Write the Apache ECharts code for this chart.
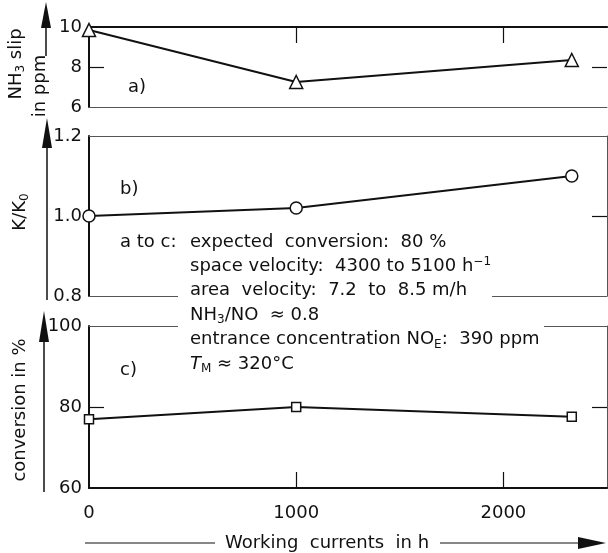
<!DOCTYPE html>
<html>
<head>
<meta charset="utf-8">
<script src="https://cdn.jsdelivr.net/npm/echarts@6/dist/echarts.min.js"></script>
<style>
  html, body { margin: 0; padding: 0; background: #fff; }
  #chart { width: 608px; height: 553px; }
</style>
</head>
<body>
<div id="chart"></div>
<script>
const hours = [0, 1000, 2330]
const nh3Slip = [9.85, 7.25, 8.35]
const kRatio = [1.0, 1.02, 1.1]
const conversion = [77, 80, 77.6]
const xTicks = [0, 1000, 2000]

const ink = '#111'
const thin = '#555'
const font = 'DejaVu Sans'

const grids = [
  { left: 89, right: 1, top: 27, height: 80 },
  { left: 89, right: 1, top: 136, height: 160 },
  { left: 89, right: 1, top: 326, height: 162 }
]

function xAx (grid, pos, lineW, lineColor, ticks, labels) {
  return {
    type: 'value', gridIndex: grid, position: pos, min: 0, max: 2500,
    axisLine: { show: true, lineStyle: { color: lineColor, width: lineW } },
    axisTick: { show: !!ticks, inside: true, length: 16, customValues: ticks || [], lineStyle: { color: ink, width: 1.2 } },
    axisLabel: labels
      ? { show: true, customValues: labels, fontFamily: font, fontSize: 18, color: ink, margin: 16, formatter: v => String(v) }
      : { show: false },
    splitLine: { show: false }
  }
}

function yAx (grid, pos, min, max, step, lineW, lineColor, ticks, labels, fmt) {
  return {
    type: 'value', gridIndex: grid, position: pos, min: min, max: max, interval: step,
    axisLine: { show: lineW > 0, onZero: false, lineStyle: { color: lineColor, width: lineW } },
    axisTick: { show: !!ticks, inside: true, length: 15, customValues: ticks || [], lineStyle: { color: ink, width: 1.2 } },
    axisLabel: labels ? { show: true, fontFamily: font, fontSize: 18, color: ink, margin: 7, formatter: fmt } : { show: false },
    splitLine: { show: false }
  }
}

function line (xi, yi, data, symbol, size) {
  return {
    type: 'line', xAxisIndex: xi, yAxisIndex: yi,
    data: hours.map((h, i) => [h, data[i]]),
    symbol: symbol, symbolSize: size, showSymbol: true,
    lineStyle: { color: ink, width: 2 },
    itemStyle: { color: '#fff', borderColor: ink, borderWidth: 1.5 },
    z: 5
  }
}

const annot = [
  'expected  conversion:  80 %',
  'space velocity:  4300 to 5100 h{sup|−1}',
  'area  velocity:  7.2  to  8.5 m/h',
  'NH{sub|3}/NO  ≈ 0.8',
  'entrance concentration NO{sub|E}:  390 ppm',
  '{it|T}{sub|M} ≈ 320°C'
]
const richSub = {
  sub: { fontFamily: font, fontSize: 12, padding: [10, 0, 0, 0], fill: ink },
  sup: { fontFamily: font, fontSize: 12, padding: [0, 0, 10, 0], fill: ink },
  it: { fontFamily: font, fontSize: 18, fontStyle: 'italic', fill: ink }
}

const graphics = [
  // white cut-outs behind the note
  { type: 'rect', shape: { x: 178, y: 230, width: 314, height: 78 }, style: { fill: '#fff' }, z: 90 },
  { type: 'rect', shape: { x: 178, y: 306, width: 366, height: 70 }, style: { fill: '#fff' }, z: 90 },
  { type: 'text', x: 120, y: 242, z: 100, style: { text: 'a to c:', font: '18px ' + font, fill: ink, verticalAlign: 'middle' } },
  { type: 'text', left: 128, top: 78, z: 100, style: { text: 'a)', font: '18px ' + font, fill: ink } },
  { type: 'text', left: 120, top: 180, z: 100, style: { text: 'b)', font: '18px ' + font, fill: ink } },
  { type: 'text', left: 120, top: 361, z: 100, style: { text: 'c)', font: '18px ' + font, fill: ink } },
  // y names
  { type: 'text', x: 16, y: 64, rotation: Math.PI / 2, z: 100,
    style: { text: 'NH{sub|3} slip', rich: richSub, font: '18px ' + font, fill: ink, align: 'center', verticalAlign: 'middle' } },
  { type: 'text', x: 40, y: 86, rotation: Math.PI / 2, z: 100,
    style: { text: 'in ppm', font: '18px ' + font, fill: ink, align: 'center', verticalAlign: 'middle' } },
  { type: 'text', x: 20, y: 212, rotation: Math.PI / 2, z: 100,
    style: { text: 'K/K{sub|0}', rich: richSub, font: '18px ' + font, fill: ink, align: 'center', verticalAlign: 'middle' } },
  { type: 'text', x: 20, y: 410, rotation: Math.PI / 2, z: 100,
    style: { text: 'conversion in %', font: '18px ' + font, fill: ink, align: 'center', verticalAlign: 'middle' } },
  // y arrows
  { type: 'line', shape: { x1: 46, y1: 56, x2: 46, y2: 20 }, style: { stroke: ink, lineWidth: 1.5 } },
  { type: 'polygon', shape: { points: [[46, 2], [41, 28], [51, 28]] }, style: { fill: ink } },
  { type: 'line', shape: { x1: 47, y1: 300, x2: 47, y2: 140 }, style: { stroke: ink, lineWidth: 1.5 } },
  { type: 'polygon', shape: { points: [[47, 118], [42, 148], [52, 148]] }, style: { fill: ink } },
  { type: 'line', shape: { x1: 44, y1: 492, x2: 44, y2: 330 }, style: { stroke: ink, lineWidth: 1.5 } },
  { type: 'polygon', shape: { points: [[44, 311], [39, 342], [49, 342]] }, style: { fill: ink } },
  // x title + arrow
  { type: 'text', x: 327, y: 543, z: 100,
    style: { text: 'Working  currents  in h', font: '18px ' + font, fill: ink, align: 'center', verticalAlign: 'middle' } },
  { type: 'line', shape: { x1: 85, y1: 543, x2: 215, y2: 543 }, style: { stroke: ink, lineWidth: 1.2 } },
  { type: 'line', shape: { x1: 440, y1: 543, x2: 585, y2: 543 }, style: { stroke: ink, lineWidth: 1.2 } },
  { type: 'polygon', shape: { points: [[606, 543], [578, 537], [578, 549]] }, style: { fill: ink } }
]
annot.forEach((t, i) => {
  graphics.push({
    type: 'text', x: 190, y: 242 + i * 24.4, z: 100,
    style: { text: t, rich: richSub, font: '18px ' + font, fill: ink, verticalAlign: 'middle' }
  })
})

const option = {
  animation: false,
  backgroundColor: '#fff',
  grid: grids,
  xAxis: [
    xAx(0, 'top', 2.2, ink, [1000, 2000]),
    xAx(0, 'bottom', 1, thin),
    xAx(1, 'top', 1, thin),
    xAx(1, 'bottom', 1, thin),
    xAx(2, 'top', 1, thin),
    xAx(2, 'bottom', 2, ink, [1000, 2000], xTicks)
  ],
  yAxis: [
    yAx(0, 'left', 6, 10, 2, 2, ink, [8], true),
    yAx(0, 'right', 6, 10, 2, 0, ink, [8]),
    yAx(1, 'left', 0.8, 1.2, 0.2, 2, ink, null, true, v => v.toFixed(1)),
    yAx(1, 'right', 0.8, 1.2, 0.2, 1, thin, [1.0]),
    yAx(2, 'left', 60, 100, 20, 2, ink, [80], true),
    yAx(2, 'right', 60, 100, 20, 1, thin, [80])
  ],
  series: [
    line(1, 0, nh3Slip, 'triangle', 13),
    line(3, 2, kRatio, 'circle', 12),
    line(5, 4, conversion, 'rect', 9)
  ],
  graphic: { elements: graphics }
}

const chart = echarts.init(document.getElementById('chart'))
chart.setOption(option)
</script>
</body>
</html>
